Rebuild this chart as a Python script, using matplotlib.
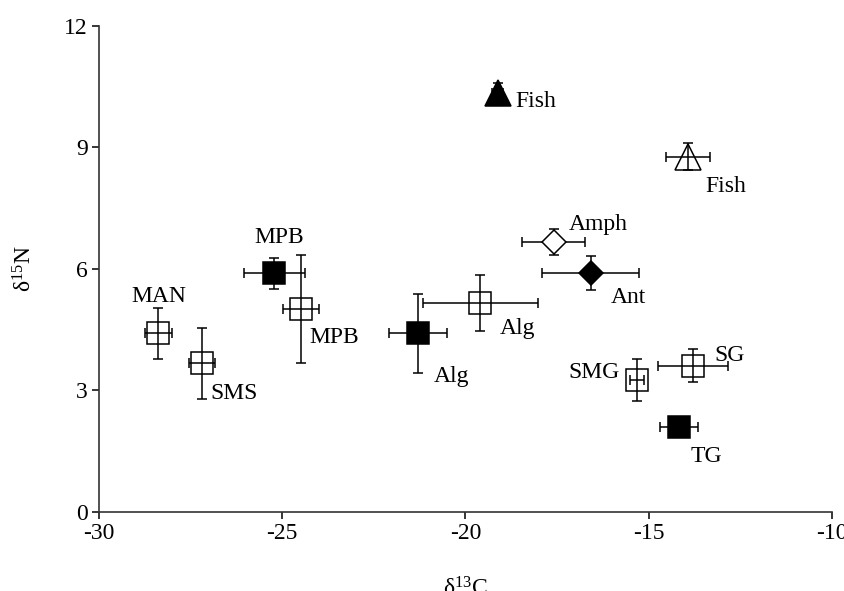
import numpy as np
import matplotlib
matplotlib.use("Agg")
import matplotlib.pyplot as plt

plt.rcParams['font.family'] = ['Liberation Serif', 'DejaVu Serif']
plt.rcParams['mathtext.fontset'] = 'custom'
plt.rcParams['mathtext.rm'] = 'Liberation Serif'
plt.rcParams['mathtext.it'] = 'Liberation Serif:italic'
plt.rcParams['axes.unicode_minus'] = False

# ------------------------------------------------------------------------
# data (delta13C, delta15N, +- errors)
names = ['MAN', 'SMS', 'MPB', 'MPB', 'Fish', 'Amph', 'Ant',
         'Alg', 'Alg', 'Fish', 'SMG', 'SG', 'TG']
d13c = [-28.38, -27.19, -25.21, -24.49, -19.11, -17.59, -16.58,
        -19.59, -21.29, -13.92, -15.31, -13.79, -14.17]
d15n = [4.40, 3.66, 5.89, 5.00, 10.34, 6.67, 5.90,
        5.15, 4.40, 8.77, 3.25, 3.60, 2.10]
c_err = [0.36, 0.36, 0.82, 0.50, 0.15, 0.86, 1.33,
         1.57, 0.80, 0.60, 0.20, 0.96, 0.52]
n_err = [0.64, 0.88, 0.38, 1.33, 0.25, 0.32, 0.42,
         0.70, 0.97, 0.33, 0.52, 0.41, 0.15]

# ------------------------------------------------------------------------
# styles: marker, face colour, label offset (px, cap centre, y up)
markers = ['s', 's', 's', 's', '^', 'D', 'D', 's', 's', '^', 's', 's', 's']
faces = ['none', 'none', 'k', 'none', 'k', 'white', 'k',
         'none', 'k', 'none', 'none', 'none', 'k']
msizes = {'s': 16, 'D': 12.5, '^': 18.5}
offsets = [(0, 40), (32, -27), (5, 38), (33, -26), (38, -6), (45, 20),
           (38, -22), (37, -23), (33, -40), (38, -27), (-43, 10),
           (37, 13), (27, -27)]

fig = plt.figure(figsize=(8.44, 5.91), dpi=100)
ax = fig.add_axes([0.1173, 0.1342, 0.8681, 0.8223])

for i in range(len(names)):
    ax.errorbar(d13c[i], d15n[i], xerr=c_err[i], yerr=n_err[i], fmt='none',
                ecolor='k', elinewidth=1.1, capsize=3.6, capthick=1.1,
                zorder=2)
    ax.plot(d13c[i], d15n[i], marker=markers[i], ms=msizes[markers[i]],
            mfc=faces[i], mec='k', mew=1.1, ls='none', zorder=3)
    dx, dy = offsets[i]
    ax.annotate(names[i], (d13c[i], d15n[i]),
                xytext=(dx * 0.72, (dy - 8.3) * 0.72),
                textcoords='offset points', ha='center', va='baseline',
                fontsize=17)

ax.set_xlim(-30, -10)
ax.set_ylim(0, 12)
ax.set_xticks([-30, -25, -20, -15, -10])
ax.set_yticks([0, 3, 6, 9, 12])

for s in ['top', 'right']:
    ax.spines[s].set_visible(False)
for s in ['left', 'bottom']:
    ax.spines[s].set_color('#333333')
    ax.spines[s].set_linewidth(1.2)

ax.tick_params(direction='out', length=5, width=1.1, labelsize=17, pad=3)

ax.set_xlabel('δ$^{13}$C', fontsize=17, labelpad=24)
ax.set_ylabel('δ$^{15}$N', fontsize=17, labelpad=20)

fig.savefig('out.png', dpi=100)
